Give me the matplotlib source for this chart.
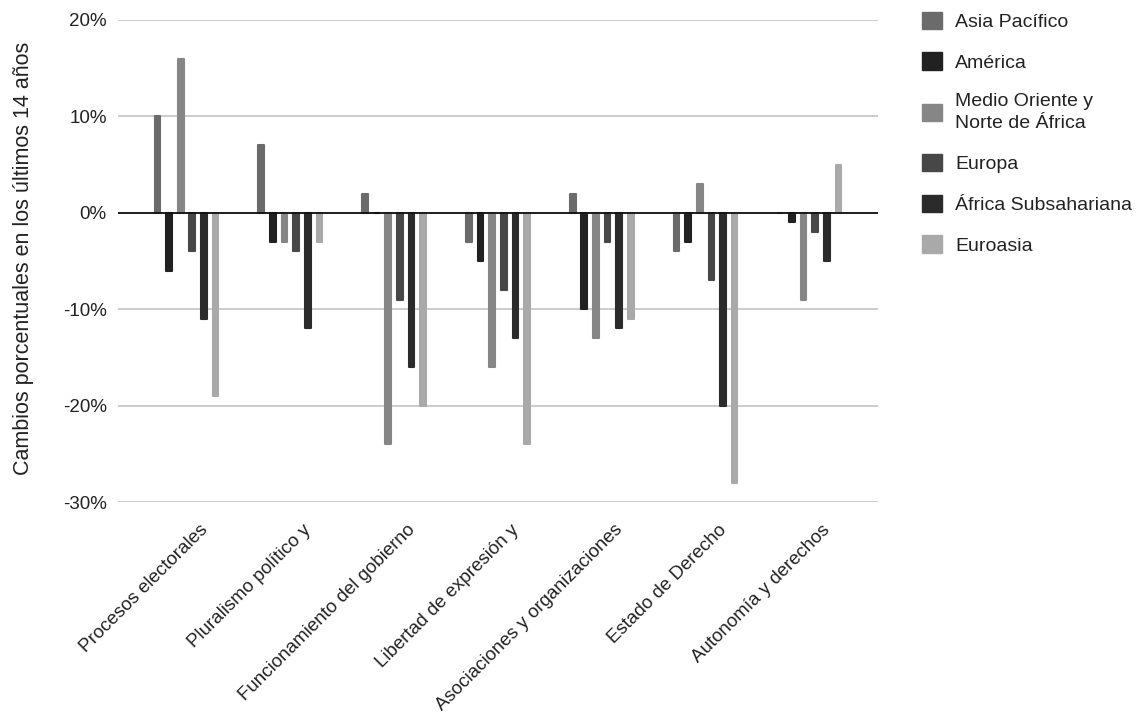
import numpy as np
import matplotlib
matplotlib.use("Agg")
import matplotlib.pyplot as plt
from matplotlib.patches import Patch

plt.rcParams['font.family'] = ['Liberation Sans', 'DejaVu Sans']

categories = [
    "Procesos electorales",
    "Pluralismo político y",
    "Funcionamiento del gobierno",
    "Libertad de expresión y",
    "Asociaciones y organizaciones",
    "Estado de Derecho",
    "Autonomía y derechos",
]

regions = [
    "Asia Pacífico",
    "América",
    "Medio Oriente y\nNorte de África",
    "Europa",
    "África Subsahariana",
    "Euroasia",
]

asia_pacifico = [10, 7, 2, -3, 2, -4, 0]
america = [-6, -3, 0, -5, -10, -3, -1]
medio_oriente = [16, -3, -24, -16, -13, 3, -9]
europa = [-4, -4, -9, -8, -3, -7, -2]
africa_sub = [-11, -12, -16, -13, -12, -20, -5]
euroasia = [-19, -3, -20, -24, -11, -28, 5]

series = [asia_pacifico, america, medio_oriente, europa, africa_sub, euroasia]
colors = ["#6b6b6b", "#212121", "#868686", "#474747", "#2b2b2b", "#a9a9a9"]

fig = plt.figure(figsize=(11.41, 7.26), dpi=100)
ax = fig.add_axes([0.1034, 0.3085, 0.666, 0.664])

x = np.arange(len(categories))
step = 0.112
width = 0.055
for i, (vals, col) in enumerate(zip(series, colors)):
    offs = (i - 2.5) * step
    ax.bar(x + offs, vals, width=width, color=col, edgecolor=col,
           linewidth=1.5, joinstyle="round", zorder=3)

ax.axhline(0, color="#111111", lw=1.3, zorder=4)

ax.set_ylim(-30, 20)
ax.set_xlim(-0.66, 6.66)
ax.set_yticks([20, 10, 0, -10, -20, -30])
ax.set_yticklabels([f"{v}%" for v in [20, 10, 0, -10, -20, -30]])
ax.yaxis.grid(True, color="#c8c8c8", lw=1.3, zorder=0)
ax.tick_params(axis="y", length=0, pad=8, labelsize=13.5, labelcolor="#222222")
ax.tick_params(axis="x", length=0)
for s in ax.spines.values():
    s.set_visible(False)

ax.set_xticks(x + 0.12)
ax.set_xticklabels(categories, rotation=45, ha="right", rotation_mode="anchor",
                   fontsize=13.5, color="#222222")
ax.tick_params(axis="x", pad=14)

ax.set_ylabel("Cambios porcentuales en los últimos 14 años", fontsize=15.5,
              color="#222222")
ax.yaxis.set_label_coords(-0.111, 0.506)

handles = [Patch(facecolor=c, edgecolor=c) for c in colors]
leg = fig.legend(handles, regions, loc="upper left", bbox_to_anchor=(0.793, 1.008),
                 frameon=False, fontsize=14, handlelength=1.0, handleheight=1.0,
                 handletextpad=0.7, labelspacing=1.1)
for t in leg.get_texts():
    t.set_linespacing(1.4)
    t.set_color("#222222")

fig.savefig("out.png", dpi=100)
